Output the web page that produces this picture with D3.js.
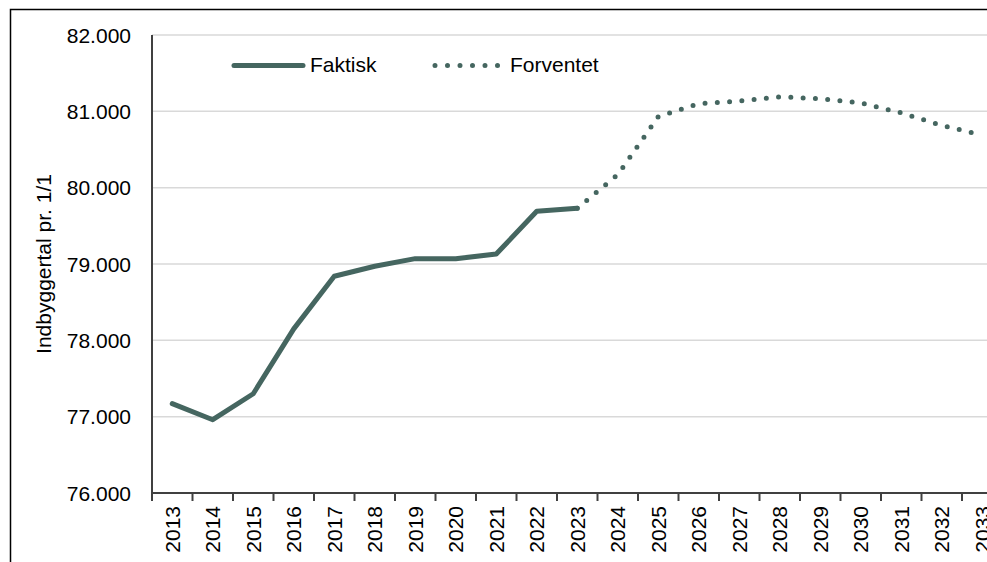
<!DOCTYPE html>
<html>
<head>
<meta charset="utf-8">
<script src="https://cdn.jsdelivr.net/npm/d3@7"></script>
<style>
  body { margin: 0; background: #fff; }
  text { font-family: Arial, "Liberation Sans", sans-serif; fill: #000; }
</style>
</head>
<body>
<script>
// years on the x axis
var years = ["2013","2014","2015","2016","2017","2018","2019","2020","2021","2022","2023",
             "2024","2025","2026","2027","2028","2029","2030","2031","2032","2033"];
// actual population 2013-2023
var faktiskYears = ["2013","2014","2015","2016","2017","2018","2019","2020","2021","2022","2023"];
var faktisk = [77170, 76960, 77300, 78150, 78840, 78970, 79070, 79070, 79130, 79690, 79730];
// forecast 2023-2033
var forventetYears = ["2023","2024","2025","2026","2027","2028","2029","2030","2031","2032","2033"];
var forventet = [79730, 80170, 80930, 81100, 81135, 81190, 81165, 81110, 80980, 80815, 80690];
// y ticks
var yTicks = [76000, 77000, 78000, 79000, 80000, 81000, 82000];

var w = 987;
var h = 562;
var lineColor = "#456660";

// plot area
const margin = {top: 35, bottom: 69, left: 152};
const band = 40.5;

var svg = d3.select("body")
            .append("svg")
            .attr("width", w)
            .attr("height", h);

// outer frame, cut off at right and bottom like the picture
svg.append("rect")
   .attr("x", 10.5)
   .attr("y", 9.5)
   .attr("width", 1100)
   .attr("height", 700)
   .attr("fill", "none")
   .attr("stroke", "#000")
   .attr("stroke-width", 1.5);

var xScale = d3.scaleBand()
               .domain(years)
               .range([margin.left, margin.left + band * years.length]);

var yScale = d3.scaleLinear()
               .domain([76000, 82000])
               .range([h - margin.bottom, margin.top]);

// gridlines
svg.append("g")
   .selectAll("line")
   .data(yTicks.slice(1))
   .enter()
   .append("line")
   .attr("x1", margin.left)
   .attr("x2", w)
   .attr("y1", function(d) { return yScale(d); })
   .attr("y2", function(d) { return yScale(d); })
   .attr("stroke", "#d9d9d9")
   .attr("stroke-width", 1.5);

// y tick labels
svg.append("g")
   .selectAll("text")
   .data(yTicks)
   .enter()
   .append("text")
   .attr("x", 131)
   .attr("y", function(d) { return yScale(d); })
   .attr("dy", "0.36em")
   .attr("text-anchor", "end")
   .attr("font-size", "21px")
   .text(function(d) { return d3.format(",")(d).replace(",", "."); });

// x axis with ticks between categories
const xAxis = d3.axisBottom(xScale)
                .tickSize(0)
                .tickFormat("");
var xg = svg.append("g")
            .attr("transform", "translate(0," + yScale(76000) + ")")
            .call(xAxis);
xg.select(".domain").remove();
xg.append("line")
  .attr("x1", margin.left)
  .attr("x2", w)
  .attr("stroke", "#404040")
  .attr("stroke-width", 2);
xg.selectAll(".sep")
  .data(years)
  .enter()
  .append("line")
  .attr("class", "sep")
  .attr("x1", function(d) { return xScale(d); })
  .attr("x2", function(d) { return xScale(d); })
  .attr("y1", 0)
  .attr("y2", 8)
  .attr("stroke", "#404040")
  .attr("stroke-width", 2);

// x tick labels, rotated
svg.append("g")
   .selectAll("text")
   .data(years)
   .enter()
   .append("text")
   .attr("transform", function(d) {
     var cx = xScale(d) + xScale.bandwidth() / 2 + 7.5;
     return "translate(" + cx + ",506) rotate(-90)";
   })
   .attr("text-anchor", "end")
   .attr("font-size", "21px")
   .text(function(d) { return d; });

// y axis line
svg.append("line")
   .attr("x1", margin.left)
   .attr("x2", margin.left)
   .attr("y1", yScale(82000))
   .attr("y2", yScale(76000) + 1)
   .attr("stroke", "#404040")
   .attr("stroke-width", 2);

// y axis title
svg.append("text")
   .attr("transform", "translate(51," + (yScale(79000)) + ") rotate(-90)")
   .attr("text-anchor", "middle")
   .attr("font-size", "21px")
   .text("Indbyggertal pr. 1/1");

var line = d3.line()
             .x(function(d) { return xScale(d[0]) + xScale.bandwidth() / 2; })
             .y(function(d) { return yScale(d[1]); });

// forecast, dotted
svg.append("path")
   .datum(d3.zip(forventetYears, forventet))
   .attr("d", line)
   .attr("fill", "none")
   .attr("stroke", lineColor)
   .attr("stroke-width", 5)
   .attr("stroke-linecap", "round")
   .attr("stroke-dasharray", "0 12.3");

// actual, solid
svg.append("path")
   .datum(d3.zip(faktiskYears, faktisk))
   .attr("d", line)
   .attr("fill", "none")
   .attr("stroke", lineColor)
   .attr("stroke-width", 5)
   .attr("stroke-linecap", "round")
   .attr("stroke-linejoin", "round");

// legend
var legend = svg.append("g");
legend.append("line")
      .attr("x1", 234).attr("x2", 303)
      .attr("y1", 65.5).attr("y2", 65.5)
      .attr("stroke", lineColor)
      .attr("stroke-width", 5)
      .attr("stroke-linecap", "round");
legend.append("text")
      .attr("x", 310).attr("y", 72)
      .attr("font-size", "21px")
      .text("Faktisk");
legend.append("line")
      .attr("x1", 435).attr("x2", 498)
      .attr("y1", 65.5).attr("y2", 65.5)
      .attr("stroke", lineColor)
      .attr("stroke-width", 5)
      .attr("stroke-linecap", "round")
      .attr("stroke-dasharray", "0 12.5");
legend.append("text")
      .attr("x", 510).attr("y", 72)
      .attr("font-size", "21px")
      .text("Forventet");
</script>
</body>
</html>
